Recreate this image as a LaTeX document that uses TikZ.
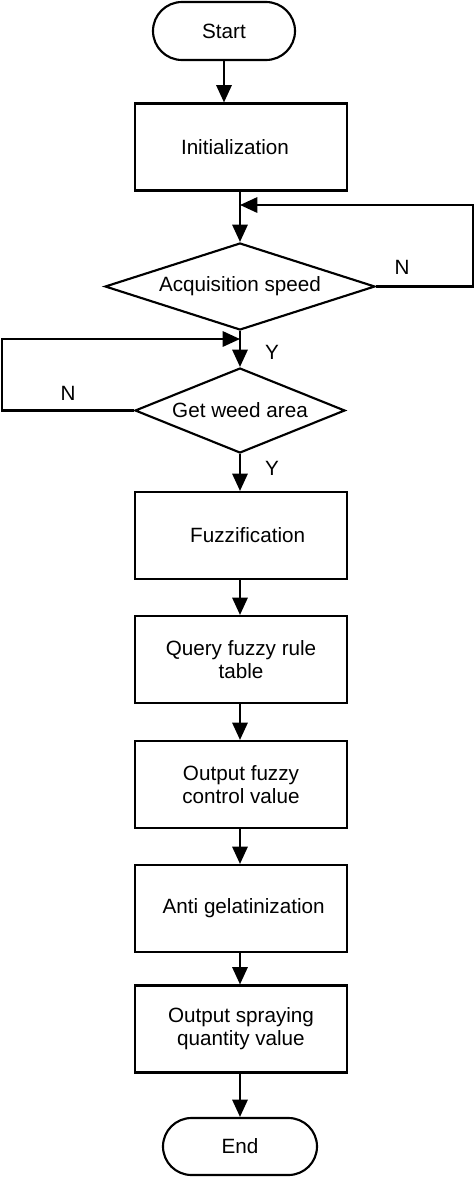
\documentclass[tikz,border=0pt]{standalone}
\usepackage{fontspec}
\setmainfont{Liberation Sans}
\usetikzlibrary{arrows.meta,shapes.geometric,shapes.misc}

\tikzset{every picture/.style={line width=1.6pt}}
\tikzset{
  procbox/.style={draw, rectangle, minimum width=159pt, minimum height=65.25pt, inner sep=0pt, align=center},
  termbox/.style={draw, rounded rectangle, inner sep=0pt},
  decbox/.style={draw, diamond, aspect=3, inner sep=0pt},
  flowarr/.style={-{Triangle[length=13pt,width=11.5pt]}},
  yn/.style={inner sep=0pt}
}

\begin{document}
\begin{tikzpicture}[x=0.75pt,y=0.75pt,yscale=-1,xscale=1,font=\fontsize{15.5}{17.3}\selectfont]
        \path (0,0) rectangle (474,1178); %set diagram size

        %Flowchart: Terminator
        \node[termbox, minimum width=106.5pt, minimum height=43.5pt] (start) at (224,31) {Start};
        %Flowchart: Process
        \node[procbox] (init) at (241,147) {Initialization\hspace*{9pt}};
        %Flowchart: Decision
        \node[decbox, minimum width=202.5pt, minimum height=65.25pt] (speed) at (240,286.5) {Acquisition speed};
        \node[decbox, minimum width=157.5pt, minimum height=63.75pt] (weed) at (240,410.5) {Get weed area};
        %Flowchart: Process
        \node[procbox] (fuzz) at (241,535.5) {\hspace*{10pt}Fuzzification};
        \node[procbox] (query) at (241,659.5) {Query fuzzy rule\\table};
        \node[procbox] (outfz) at (241,784.5) {Output fuzzy\\control value};
        \node[procbox] (anti) at (241,908.5) {\hspace*{4pt}Anti gelatinization};
        \node[procbox] (outsp) at (241,1029) {Output spraying\\quantity value};
        %Flowchart: Terminator
        \node[termbox, minimum width=115.5pt, minimum height=42.75pt] (stop) at (240,1146.5) {End};

        %Straight Lines
        \coordinate (backR) at (240,205);
        \coordinate (backL) at (240,339);
        \draw[flowarr] (start.south) -- (start.south |- init.north);
        \draw[flowarr] (init.south -| speed.north) -- (speed.north);
        \draw[flowarr] (speed.east) -- (473,286.5) |- (backR);
        \draw[flowarr] (speed.south) -- (weed.north);
        \draw[flowarr] (weed.west) -- (2,410.5) |- (backL);
        \draw[flowarr] (weed.south) -- (weed.south |- fuzz.north);
        \draw[flowarr] (fuzz.south -| weed.south) -- (weed.south |- query.north);
        \draw[flowarr] (query.south -| weed.south) -- (weed.south |- outfz.north);
        \draw[flowarr] (outfz.south -| weed.south) -- (weed.south |- anti.north);
        \draw[flowarr] (anti.south -| weed.south) -- (weed.south |- outsp.north);
        \draw[flowarr] (outsp.south -| stop.north) -- (stop.north);

        %Text labels
        \node[yn] (nspeed) at (402,267) {N};
        \node[yn] (yspeed) at (272,352) {Y};
        \node[yn] (nweed) at (68,393) {N};
        \node[yn] (yweed) at (272,468) {Y};

\end{tikzpicture}
\end{document}
